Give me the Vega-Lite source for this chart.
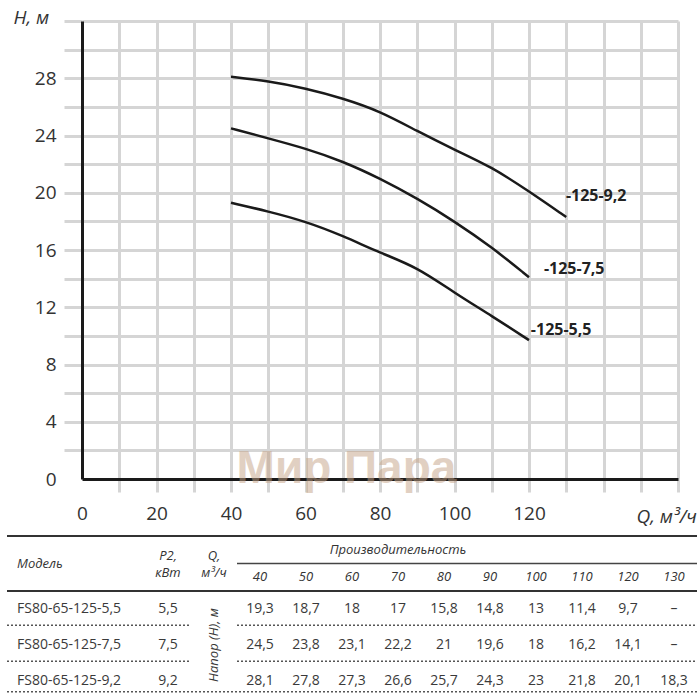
{
  "$schema": "https://vega.github.io/schema/vega-lite/v6.json",
  "background": "white",
  "padding": {"left": 6, "top": 8, "right": 0, "bottom": 0},
  "config": {"view": {"stroke": null}, "font": "Open Sans"},
  "datasets": {
    "curves": [
      {"model": "5,5", "Q": 40, "H": 19.3}, {"model": "5,5", "Q": 50, "H": 18.7}, {"model": "5,5", "Q": 60, "H": 18}, {"model": "5,5", "Q": 70, "H": 17}, {"model": "5,5", "Q": 80, "H": 15.8}, {"model": "5,5", "Q": 90, "H": 14.8}, {"model": "5,5", "Q": 100, "H": 13}, {"model": "5,5", "Q": 110, "H": 11.4}, {"model": "5,5", "Q": 120, "H": 9.7},
      {"model": "7,5", "Q": 40, "H": 24.5}, {"model": "7,5", "Q": 50, "H": 23.8}, {"model": "7,5", "Q": 60, "H": 23.1}, {"model": "7,5", "Q": 70, "H": 22.2}, {"model": "7,5", "Q": 80, "H": 21}, {"model": "7,5", "Q": 90, "H": 19.6}, {"model": "7,5", "Q": 100, "H": 18}, {"model": "7,5", "Q": 110, "H": 16.2}, {"model": "7,5", "Q": 120, "H": 14.1},
      {"model": "9,2", "Q": 40, "H": 28.1}, {"model": "9,2", "Q": 50, "H": 27.8}, {"model": "9,2", "Q": 60, "H": 27.3}, {"model": "9,2", "Q": 70, "H": 26.6}, {"model": "9,2", "Q": 80, "H": 25.7}, {"model": "9,2", "Q": 90, "H": 24.3}, {"model": "9,2", "Q": 100, "H": 23}, {"model": "9,2", "Q": 110, "H": 21.8}, {"model": "9,2", "Q": 120, "H": 20.1}, {"model": "9,2", "Q": 130, "H": 18.3}
    ],
    "labels": [
      {"label": "-125-9,2", "Q": 129.9, "H": 19.8},
      {"label": "-125-7,5", "Q": 124, "H": 14.7},
      {"label": "-125-5,5", "Q": 120.5, "H": 10.4}
    ],
    "watermark": [{"text": "Мир Пара", "Q": 71, "H": 0.7}],
    "head": [
      {"text": "Модель", "col": "m", "line": "line1", "kind": "model"},
      {"text": "P2,", "col": "p2", "line": "line1", "kind": "top"},
      {"text": "Q,", "col": "q", "line": "line1", "kind": "top"},
      {"text": "кВт", "col": "p2", "line": "line2", "kind": "bot"},
      {"text": "м³/ч", "col": "q", "line": "line2", "kind": "bot"},
      {"text": "Производительность", "col": "70", "line": "line1", "kind": "mid"},
      {"text": "40", "col": "40", "line": "line2", "kind": "mid"},
      {"text": "50", "col": "50", "line": "line2", "kind": "mid"},
      {"text": "60", "col": "60", "line": "line2", "kind": "mid"},
      {"text": "70", "col": "70", "line": "line2", "kind": "mid"},
      {"text": "80", "col": "80", "line": "line2", "kind": "mid"},
      {"text": "90", "col": "90", "line": "line2", "kind": "mid"},
      {"text": "100", "col": "100", "line": "line2", "kind": "mid"},
      {"text": "110", "col": "110", "line": "line2", "kind": "mid"},
      {"text": "120", "col": "120", "line": "line2", "kind": "mid"},
      {"text": "130", "col": "130", "line": "line2", "kind": "mid"}
    ],
    "hrules": [
      {"col": "m", "to": "130", "line": "line1", "kind": "top"},
      {"col": "40", "to": "130", "line": "line1", "kind": "sub"},
      {"col": "m", "to": "130", "line": "line2", "kind": "bottom"}
    ],
    "cells": [
      {"row": "r1", "col": "m", "text": "FS80-65-125-5,5"}, {"row": "r1", "col": "p2", "text": "5,5"},
      {"row": "r1", "col": "40", "text": "19,3"}, {"row": "r1", "col": "50", "text": "18,7"}, {"row": "r1", "col": "60", "text": "18"}, {"row": "r1", "col": "70", "text": "17"}, {"row": "r1", "col": "80", "text": "15,8"}, {"row": "r1", "col": "90", "text": "14,8"}, {"row": "r1", "col": "100", "text": "13"}, {"row": "r1", "col": "110", "text": "11,4"}, {"row": "r1", "col": "120", "text": "9,7"}, {"row": "r1", "col": "130", "text": "–"},
      {"row": "r2", "col": "m", "text": "FS80-65-125-7,5"}, {"row": "r2", "col": "p2", "text": "7,5"},
      {"row": "r2", "col": "40", "text": "24,5"}, {"row": "r2", "col": "50", "text": "23,8"}, {"row": "r2", "col": "60", "text": "23,1"}, {"row": "r2", "col": "70", "text": "22,2"}, {"row": "r2", "col": "80", "text": "21"}, {"row": "r2", "col": "90", "text": "19,6"}, {"row": "r2", "col": "100", "text": "18"}, {"row": "r2", "col": "110", "text": "16,2"}, {"row": "r2", "col": "120", "text": "14,1"}, {"row": "r2", "col": "130", "text": "–"},
      {"row": "r3", "col": "m", "text": "FS80-65-125-9,2"}, {"row": "r3", "col": "p2", "text": "9,2"},
      {"row": "r3", "col": "40", "text": "28,1"}, {"row": "r3", "col": "50", "text": "27,8"}, {"row": "r3", "col": "60", "text": "27,3"}, {"row": "r3", "col": "70", "text": "26,6"}, {"row": "r3", "col": "80", "text": "25,7"}, {"row": "r3", "col": "90", "text": "24,3"}, {"row": "r3", "col": "100", "text": "23"}, {"row": "r3", "col": "110", "text": "21,8"}, {"row": "r3", "col": "120", "text": "20,1"}, {"row": "r3", "col": "130", "text": "18,3"}
    ],
    "vertical": [{"text": "Напор (Н), м", "col": "q", "row": "r2"}],
    "brules": [
      {"row": "r1", "col": "m", "to": "p2", "kind": "mid"}, {"row": "r1", "col": "40", "to": "130", "kind": "mid"},
      {"row": "r2", "col": "m", "to": "p2", "kind": "mid"}, {"row": "r2", "col": "40", "to": "130", "kind": "mid"},
      {"row": "r3", "col": "m", "to": "130", "kind": "last"}
    ]
  },
  "bounds": "flush",
  "spacing": 57,
  "resolve": {"scale": {"x": "independent", "y": "independent"}},
  "vconcat": [
    {
      "width": 596,
      "height": 458,
      "layer": [
        {
          "data": {"name": "watermark"},
          "mark": {"type": "text", "fontSize": 46, "fontWeight": "bold", "font": "Liberation Sans", "color": "#c4a286", "opacity": 0.5, "baseline": "middle", "align": "center"},
          "encoding": {
            "x": {"field": "Q", "type": "quantitative"},
            "y": {"field": "H", "type": "quantitative"},
            "text": {"field": "text"}
          }
        },
        {
          "data": {"name": "curves"},
          "mark": {"type": "line", "interpolate": "basis", "strokeWidth": 2.5, "color": "#1a1a1a"},
          "encoding": {
            "x": {
              "field": "Q", "type": "quantitative",
              "scale": {"domain": [0, 160], "nice": false},
              "axis": {
                "tickCount": 16,
                "labelExpr": "datum.value % 20 === 0 && datum.value <= 120 ? datum.label : ''",
                "grid": true,
                "gridColor": {"condition": {"test": "datum.value === 0", "value": "transparent"}, "value": "#d5d5d5"},
                "gridWidth": 3, "gridOpacity": 1,
                "tickColor": {"condition": {"test": "datum.value === 0", "value": "transparent"}, "value": "#d5d5d5"},
                "tickWidth": 3, "tickSize": 13,
                "domainColor": "#1a1a1a", "domainWidth": 3,
                "labelFontSize": 19, "labelColor": "#333", "labelPadding": 21, "labelBaseline": "middle",
                "labelFlush": false, "labelOverlap": false,
                "title": "Q, м³/ч", "titleFontStyle": "italic", "titleFontWeight": "normal", "titleFontSize": 19, "titleColor": "#333",
                "titleAngle": 0, "titleAlign": "left", "titleBaseline": "middle", "titleX": 554, "titleY": 37
              }
            },
            "y": {
              "field": "H", "type": "quantitative",
              "scale": {"domain": [0, 32], "nice": false},
              "axis": {
                "tickCount": 16,
                "labelExpr": "datum.value % 4 === 0 && datum.value <= 28 ? datum.label : ''",
                "grid": true,
                "gridColor": {"condition": {"test": "datum.value === 0", "value": "transparent"}, "value": "#d5d5d5"},
                "gridWidth": 3, "gridOpacity": 1,
                "tickColor": {"condition": {"test": "datum.value === 0", "value": "transparent"}, "value": "#d5d5d5"},
                "tickWidth": 3, "tickSize": 18,
                "domainColor": "#1a1a1a", "domainWidth": 3,
                "labelFontSize": 19, "labelColor": "#333", "labelPadding": 8,
                "labelOverlap": false,
                "title": "H, м", "titleFontStyle": "italic", "titleFontWeight": "normal", "titleFontSize": 19, "titleColor": "#333",
                "titleAngle": 0, "titleAlign": "left", "titleBaseline": "middle", "titleX": -69, "titleY": -4
              }
            },
            "detail": {"field": "model"}
          }
        },
        {
          "data": {"name": "labels"},
          "mark": {"type": "text", "align": "left", "baseline": "middle", "fontWeight": "bold", "fontSize": 16, "color": "#222"},
          "encoding": {
            "x": {"field": "Q", "type": "quantitative"},
            "y": {"field": "H", "type": "quantitative"},
            "text": {"field": "label"}
          }
        }
      ]
    },
    {
      "bounds": "flush",
      "spacing": 0,
      "resolve": {"scale": {"x": "independent", "y": "independent"}},
      "vconcat": [
        {
          "width": 596,
          "height": 55,
          "layer": [
            {
              "data": {"name": "hrules"},
              "transform": [{"filter": "datum.kind === 'top'"}],
              "mark": {"type": "rule", "strokeWidth": 2, "color": "#333"},
              "encoding": {
                "x": {"field": "col", "type": "ordinal", "bandPosition": 0, "axis": null, "scale": {"domain": ["m", "s1", "s2", "p2", "q", "40", "50", "60", "70", "80", "90", "100", "110", "120", "130"], "range": [-75, 615], "paddingInner": 0, "paddingOuter": 0}},
                "x2": {"field": "to", "bandPosition": 1},
                "y": {"field": "line", "type": "ordinal", "bandPosition": 0, "axis": null, "scale": {"domain": ["line1", "line2"], "paddingInner": 0, "paddingOuter": 0}}
              }
            },
            {
              "data": {"name": "hrules"},
              "transform": [{"filter": "datum.kind === 'sub'"}],
              "mark": {"type": "rule", "strokeWidth": 1.5, "color": "#444"},
              "encoding": {
                "x": {"field": "col", "type": "ordinal", "bandPosition": 0, "axis": null, "scale": {"domain": ["m", "s1", "s2", "p2", "q", "40", "50", "60", "70", "80", "90", "100", "110", "120", "130"], "range": [-75, 615], "paddingInner": 0, "paddingOuter": 0}},
                "x2": {"field": "to", "bandPosition": 1},
                "y": {"field": "line", "type": "ordinal", "bandPosition": 1, "axis": null, "scale": {"domain": ["line1", "line2"], "paddingInner": 0, "paddingOuter": 0}}
              }
            },
            {
              "data": {"name": "hrules"},
              "transform": [{"filter": "datum.kind === 'bottom'"}],
              "mark": {"type": "rule", "strokeWidth": 2, "color": "#333"},
              "encoding": {
                "x": {"field": "col", "type": "ordinal", "bandPosition": 0, "axis": null, "scale": {"domain": ["m", "s1", "s2", "p2", "q", "40", "50", "60", "70", "80", "90", "100", "110", "120", "130"], "range": [-75, 615], "paddingInner": 0, "paddingOuter": 0}},
                "x2": {"field": "to", "bandPosition": 1},
                "y": {"field": "line", "type": "ordinal", "bandPosition": 1, "axis": null, "scale": {"domain": ["line1", "line2"], "paddingInner": 0, "paddingOuter": 0}}
              }
            },
            {
              "data": {"name": "head"},
              "transform": [{"filter": "datum.kind === 'model'"}],
              "mark": {"type": "text", "align": "left", "baseline": "middle", "dx": 10, "fontSize": 13, "fontStyle": "italic", "color": "#333"},
              "encoding": {
                "x": {"field": "col", "type": "ordinal", "bandPosition": 0, "axis": null, "scale": {"domain": ["m", "s1", "s2", "p2", "q", "40", "50", "60", "70", "80", "90", "100", "110", "120", "130"], "range": [-75, 615], "paddingInner": 0, "paddingOuter": 0}},
                "y": {"field": "line", "type": "ordinal", "bandPosition": 1, "axis": null, "scale": {"domain": ["line1", "line2"], "paddingInner": 0, "paddingOuter": 0}},
                "text": {"field": "text"}
              }
            },
            {
              "data": {"name": "head"},
              "transform": [{"filter": "datum.kind === 'top'"}],
              "mark": {"type": "text", "align": "center", "baseline": "middle", "dy": 6, "fontSize": 13, "fontStyle": "italic", "color": "#333"},
              "encoding": {
                "x": {"field": "col", "type": "ordinal", "bandPosition": 0.5, "axis": null, "scale": {"domain": ["m", "s1", "s2", "p2", "q", "40", "50", "60", "70", "80", "90", "100", "110", "120", "130"], "range": [-75, 615], "paddingInner": 0, "paddingOuter": 0}},
                "y": {"field": "line", "type": "ordinal", "bandPosition": 0.5, "axis": null, "scale": {"domain": ["line1", "line2"], "paddingInner": 0, "paddingOuter": 0}},
                "text": {"field": "text"}
              }
            },
            {
              "data": {"name": "head"},
              "transform": [{"filter": "datum.kind === 'bot'"}],
              "mark": {"type": "text", "align": "center", "baseline": "middle", "dy": -4, "fontSize": 13, "fontStyle": "italic", "color": "#333"},
              "encoding": {
                "x": {"field": "col", "type": "ordinal", "bandPosition": 0.5, "axis": null, "scale": {"domain": ["m", "s1", "s2", "p2", "q", "40", "50", "60", "70", "80", "90", "100", "110", "120", "130"], "range": [-75, 615], "paddingInner": 0, "paddingOuter": 0}},
                "y": {"field": "line", "type": "ordinal", "bandPosition": 0.5, "axis": null, "scale": {"domain": ["line1", "line2"], "paddingInner": 0, "paddingOuter": 0}},
                "text": {"field": "text"}
              }
            },
            {
              "data": {"name": "head"},
              "transform": [{"filter": "datum.kind === 'mid'"}],
              "mark": {"type": "text", "align": "center", "baseline": "middle", "fontSize": 13, "fontStyle": "italic", "color": "#333"},
              "encoding": {
                "x": {"field": "col", "type": "ordinal", "bandPosition": 0.5, "axis": null, "scale": {"domain": ["m", "s1", "s2", "p2", "q", "40", "50", "60", "70", "80", "90", "100", "110", "120", "130"], "range": [-75, 615], "paddingInner": 0, "paddingOuter": 0}},
                "y": {"field": "line", "type": "ordinal", "bandPosition": 0.5, "axis": null, "scale": {"domain": ["line1", "line2"], "paddingInner": 0, "paddingOuter": 0}},
                "text": {"field": "text"}
              }
            }
          ]
        },
        {
          "width": 596,
          "height": 108,
          "layer": [
            {
              "data": {"name": "brules"},
              "transform": [{"filter": "datum.kind === 'mid'"}],
              "mark": {"type": "rule", "strokeWidth": 1.5, "strokeDash": [2, 2], "color": "#555"},
              "encoding": {
                "x": {"field": "col", "type": "ordinal", "bandPosition": 0, "axis": null, "scale": {"domain": ["m", "s1", "s2", "p2", "q", "40", "50", "60", "70", "80", "90", "100", "110", "120", "130"], "range": [-75, 615], "paddingInner": 0, "paddingOuter": 0}},
                "x2": {"field": "to", "bandPosition": 1},
                "y": {"field": "row", "type": "ordinal", "bandPosition": 0.95, "axis": null, "scale": {"domain": ["r1", "r2", "r3"], "paddingInner": 0, "paddingOuter": 0}}
              }
            },
            {
              "data": {"name": "brules"},
              "transform": [{"filter": "datum.kind === 'last'"}],
              "mark": {"type": "rule", "strokeWidth": 1.5, "strokeDash": [2, 2], "color": "#555"},
              "encoding": {
                "x": {"field": "col", "type": "ordinal", "bandPosition": 0, "axis": null, "scale": {"domain": ["m", "s1", "s2", "p2", "q", "40", "50", "60", "70", "80", "90", "100", "110", "120", "130"], "range": [-75, 615], "paddingInner": 0, "paddingOuter": 0}},
                "x2": {"field": "to", "bandPosition": 1},
                "y": {"field": "row", "type": "ordinal", "bandPosition": 0.8, "axis": null, "scale": {"domain": ["r1", "r2", "r3"], "paddingInner": 0, "paddingOuter": 0}}
              }
            },
            {
              "data": {"name": "cells"},
              "transform": [{"filter": "datum.col === 'm'"}],
              "mark": {"type": "text", "align": "left", "baseline": "middle", "dx": 10, "fontSize": 14, "color": "#3a3a3a"},
              "encoding": {
                "x": {"field": "col", "type": "ordinal", "bandPosition": 0, "axis": null, "scale": {"domain": ["m", "s1", "s2", "p2", "q", "40", "50", "60", "70", "80", "90", "100", "110", "120", "130"], "range": [-75, 615], "paddingInner": 0, "paddingOuter": 0}},
                "y": {"field": "row", "type": "ordinal", "bandPosition": 0.5, "axis": null, "scale": {"domain": ["r1", "r2", "r3"], "paddingInner": 0, "paddingOuter": 0}},
                "text": {"field": "text"}
              }
            },
            {
              "data": {"name": "cells"},
              "transform": [{"filter": "datum.col !== 'm'"}],
              "mark": {"type": "text", "align": "center", "baseline": "middle", "fontSize": 14, "color": "#3a3a3a"},
              "encoding": {
                "x": {"field": "col", "type": "ordinal", "bandPosition": 0.5, "axis": null, "scale": {"domain": ["m", "s1", "s2", "p2", "q", "40", "50", "60", "70", "80", "90", "100", "110", "120", "130"], "range": [-75, 615], "paddingInner": 0, "paddingOuter": 0}},
                "y": {"field": "row", "type": "ordinal", "bandPosition": 0.5, "axis": null, "scale": {"domain": ["r1", "r2", "r3"], "paddingInner": 0, "paddingOuter": 0}},
                "text": {"field": "text"}
              }
            },
            {
              "data": {"name": "vertical"},
              "mark": {"type": "text", "align": "center", "baseline": "middle", "angle": 270, "fontSize": 13, "fontStyle": "italic", "color": "#3a3a3a"},
              "encoding": {
                "x": {"field": "col", "type": "ordinal", "bandPosition": 0.5, "axis": null, "scale": {"domain": ["m", "s1", "s2", "p2", "q", "40", "50", "60", "70", "80", "90", "100", "110", "120", "130"], "range": [-75, 615], "paddingInner": 0, "paddingOuter": 0}},
                "y": {"field": "row", "type": "ordinal", "bandPosition": 0.5, "axis": null, "scale": {"domain": ["r1", "r2", "r3"], "paddingInner": 0, "paddingOuter": 0}},
                "text": {"field": "text"}
              }
            }
          ]
        }
      ]
    }
  ]
}
